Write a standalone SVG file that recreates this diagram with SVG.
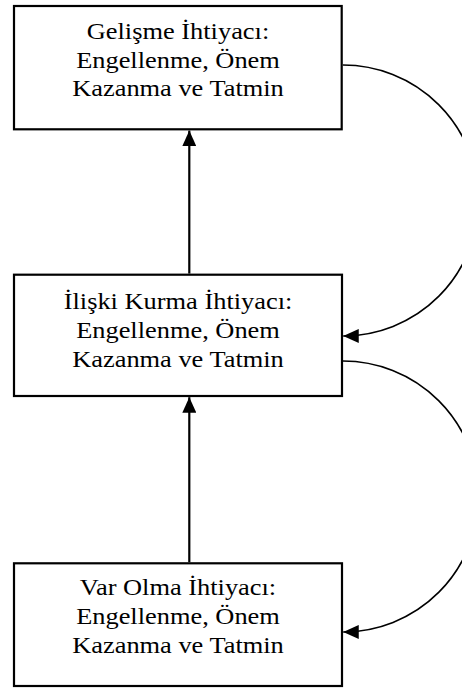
<svg xmlns="http://www.w3.org/2000/svg" width="462" height="688" viewBox="0 0 462 688">
<style>
.box{fill:#fff;stroke:#000;stroke-width:2.2}
.lbl{font-family:"Liberation Serif","Times New Roman",serif;font-size:24px;fill:#000;text-anchor:middle}
.up{stroke:#000;stroke-width:2.2;fill:none}
.curve{stroke:#000;stroke-width:1.6;fill:none}
</style>
<defs>
<marker id="ah" markerUnits="userSpaceOnUse" markerWidth="16" markerHeight="14" viewBox="0 0 15 13.5" refX="15" refY="6.75" orient="auto">
<path d="M0,0 L15,6.75 L0,13.5 z" fill="#000"/>
</marker>
</defs>
<g id="node-gelisme">
<rect class="box" x="14" y="6" width="327.7" height="123.3"/>
<g transform="translate(178,0) scale(1.1,1)">
<text class="lbl" x="0" y="39.5">Gelişme İhtiyacı:</text>
<text class="lbl" x="0" y="68">Engellenme, Önem</text>
<text class="lbl" x="0" y="96.5">Kazanma ve Tatmin</text>
</g>
</g>
<g id="node-iliski">
<rect class="box" x="14" y="274.7" width="328" height="121.3"/>
<g transform="translate(178,0) scale(1.1,1)">
<text class="lbl" x="0" y="309">İlişki Kurma İhtiyacı:</text>
<text class="lbl" x="0" y="338">Engellenme, Önem</text>
<text class="lbl" x="0" y="367">Kazanma ve Tatmin</text>
</g>
</g>
<g id="node-varolma">
<rect class="box" x="14" y="563.3" width="328" height="122.7"/>
<g transform="translate(178,0) scale(1.1,1)">
<text class="lbl" x="0" y="595">Var Olma İhtiyacı:</text>
<text class="lbl" x="0" y="624">Engellenme, Önem</text>
<text class="lbl" x="0" y="653">Kazanma ve Tatmin</text>
</g>
</g>
<g id="connectors">
<line class="up" x1="189.3" y1="273.6" x2="189.3" y2="130.6" marker-end="url(#ah)"/>
<line class="up" x1="189.3" y1="562.2" x2="189.3" y2="397.2" marker-end="url(#ah)"/>
<path class="curve" d="M342.8,65 A135.5,135.5 0 0 1 343.2,336" marker-end="url(#ah)"/>
<path class="curve" d="M342.8,361 A135.5,135.5 0 0 1 343.2,632" marker-end="url(#ah)"/>
</g>
</svg>
